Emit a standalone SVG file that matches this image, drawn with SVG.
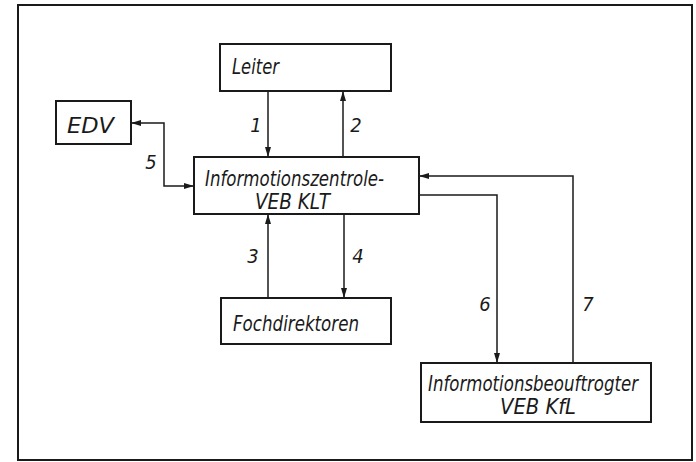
<svg xmlns="http://www.w3.org/2000/svg" width="696" height="462" viewBox="0 0 696 462">
<defs>
<marker id="ah" viewBox="0 0 10 6" refX="10" refY="3" markerWidth="10" markerHeight="6" markerUnits="userSpaceOnUse" orient="auto-start-reverse">
<path d="M0,0 L10,3 L0,6 z" fill="#1a1a1a"/>
</marker>
<style>
.box{fill:#fff;stroke:#1a1a1a;stroke-width:2}
.ln{fill:none;stroke:#1a1a1a;stroke-width:1.5}
.t{font-family:"DejaVu Sans Condensed","DejaVu Sans",sans-serif;font-style:italic;font-size:21px;fill:#1a1a1a}
.n{font-family:"DejaVu Sans Condensed","DejaVu Sans",sans-serif;font-style:italic;font-size:20px;fill:#1a1a1a;text-anchor:middle}
</style>
</defs>
<rect x="0" y="0" width="696" height="462" fill="#fff"/>
<rect x="18" y="5" width="674" height="455" fill="none" stroke="#1a1a1a" stroke-width="2"/>
<g id="connectors">
<path class="ln" d="M268,91 V157" marker-end="url(#ah)"/>
<path class="ln" d="M343,157 V91" marker-end="url(#ah)"/>
<path class="ln" d="M268,298 V214" marker-end="url(#ah)"/>
<path class="ln" d="M344,214 V298" marker-end="url(#ah)"/>
<path class="ln" d="M131,123 H164 V186 H194" marker-start="url(#ah)" marker-end="url(#ah)"/>
<path class="ln" d="M419,195 H497 V363" marker-end="url(#ah)"/>
<path class="ln" d="M573,363 V176 H419" marker-end="url(#ah)"/>
<text class="n" x="256" y="132">1</text>
<text class="n" x="356" y="132">2</text>
<text class="n" x="253" y="263">3</text>
<text class="n" x="358" y="263">4</text>
<text class="n" x="151" y="169">5</text>
<text class="n" x="485" y="311">6</text>
<text class="n" x="588" y="311">7</text>
</g>
<g id="leiter">
<rect class="box" x="220" y="44" width="171" height="47"/>
<text class="t" x="232" y="74" textLength="47" lengthAdjust="spacingAndGlyphs">Leiter</text>
</g>
<g id="edv">
<rect class="box" x="56" y="101" width="75" height="43"/>
<text class="t" x="67" y="133" textLength="47" lengthAdjust="spacingAndGlyphs">EDV</text>
</g>
<g id="informationszentrale">
<rect class="box" x="194" y="157" width="225" height="57"/>
<text class="t" x="205" y="186" textLength="179" lengthAdjust="spacingAndGlyphs">Informotionszentrole-</text>
<text class="t" x="255" y="209" textLength="75" lengthAdjust="spacingAndGlyphs">VEB KLT</text>
</g>
<g id="fachdirektoren">
<rect class="box" x="221" y="298" width="170" height="46"/>
<text class="t" x="233" y="331" textLength="126" lengthAdjust="spacingAndGlyphs">Fochdirektoren</text>
</g>
<g id="informationsbeauftragter">
<rect class="box" x="421" y="363" width="230" height="59"/>
<text class="t" x="428" y="391" textLength="210" lengthAdjust="spacingAndGlyphs">Informotionsbeouftrogter</text>
<text class="t" x="500" y="414" textLength="76" lengthAdjust="spacingAndGlyphs">VEB KfL</text>
</g>
</svg>
